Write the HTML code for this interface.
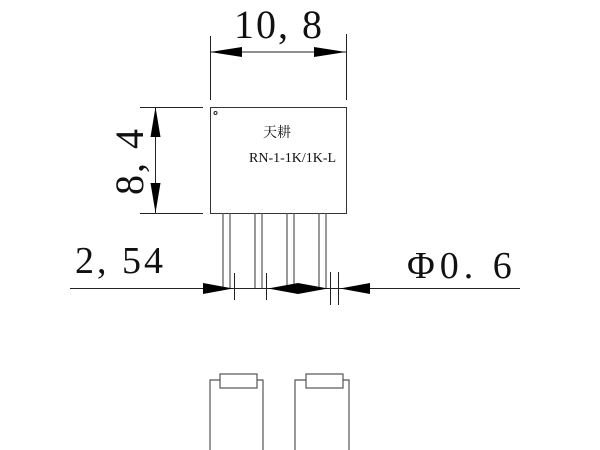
<!DOCTYPE html>
<html><head><meta charset="utf-8"><style>
html,body{margin:0;padding:0;background:#fff;}
svg{display:block;}
text{font-family:"Liberation Serif","Noto Serif CJK SC",serif;fill:#111;}
</style></head><body>
<svg width="600" height="450" viewBox="0 0 600 450" xmlns="http://www.w3.org/2000/svg">
<g stroke="#222" stroke-width="1" fill="none">
<rect x="210.5" y="107.5" width="136" height="106" stroke="#333"/>
<circle cx="215.5" cy="113" r="1.5"/>
<line x1="210.5" y1="36" x2="210.5" y2="100"/>
<line x1="346.5" y1="34" x2="346.5" y2="100"/>
<line x1="210" y1="52" x2="346" y2="52"/>
<line x1="140" y1="107.5" x2="203" y2="107.5"/>
<line x1="140" y1="213.5" x2="203" y2="213.5"/>
<line x1="155.5" y1="107" x2="155.5" y2="213"/>
<g stroke="#555" stroke-width="1.2">
<line x1="223" y1="213" x2="223" y2="288"/><line x1="230" y1="213" x2="230" y2="288"/>
<line x1="255" y1="213" x2="255" y2="288"/><line x1="262" y1="213" x2="262" y2="288"/>
<line x1="287" y1="213" x2="287" y2="288"/><line x1="294" y1="213" x2="294" y2="288"/>
<line x1="319" y1="213" x2="319" y2="288"/><line x1="326" y1="213" x2="326" y2="288"/>
</g>
<line x1="70" y1="288.5" x2="520" y2="288.5"/>
<line x1="234.5" y1="273" x2="234.5" y2="300"/>
<line x1="266.5" y1="273" x2="266.5" y2="300"/>
<line x1="330.5" y1="272" x2="330.5" y2="305"/>
<line x1="338.5" y1="272" x2="338.5" y2="305"/>
<g stroke="#555" stroke-width="1.2">
<polyline points="210,450 210,380 220,380"/>
<rect x="220" y="374" width="37" height="14"/>
<polyline points="257,380 263,380 263,450"/>
<polyline points="295,450 295,380 306,380"/>
<rect x="306" y="374" width="37" height="14"/>
<polyline points="343,380 349,380 349,450"/>
</g>
</g>
<g fill="#000">
<polygon points="210,52 242,47 242,57"/>
<polygon points="346,52 314,47 314,57"/>
<polygon points="155.5,107 150.5,137 160.5,137"/>
<polygon points="155.5,213 150.5,183 160.5,183"/>
<polygon points="233,288.5 203,283 203,294"/>
<polygon points="268,288.5 298,283 298,294"/>
<polygon points="328,288.5 298,283 298,294"/>
<polygon points="340,288.5 370,283 370,294"/>
</g>
<text x="234" y="38" font-size="40" letter-spacing="2">10, 8</text>
<text transform="translate(143,195) rotate(-90)" font-size="40" letter-spacing="2">8, 4</text>
<text x="75" y="273" font-size="38" letter-spacing="3">2, 54</text>
<text x="407" y="278" font-size="38" letter-spacing="5">Φ0. 6</text>
<text x="263" y="137" font-size="14" font-family="'Noto Sans CJK SC',sans-serif">天耕</text>
<text x="249" y="162" font-size="14">RN-1-1K/1K-L</text>
</svg>
</body></html>
